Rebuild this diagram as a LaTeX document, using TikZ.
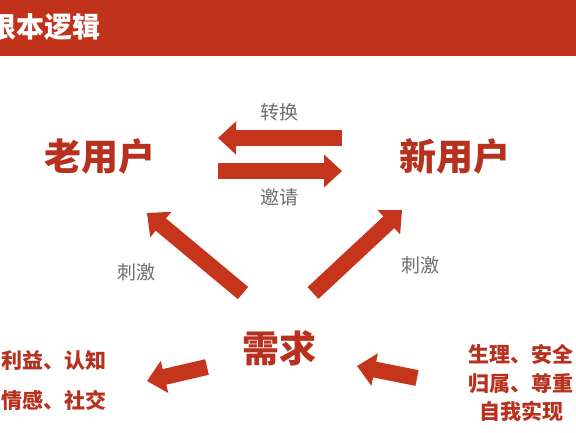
\documentclass[tikz,border=0pt]{standalone}
\usepackage{fontspec}
\usepackage{xcolor}
\usepackage{tikz}
\usetikzlibrary{positioning,arrows.meta}
\newfontfamily\cjk{Noto Sans CJK SC}
\definecolor{cHead}{HTML}{C1321A}
\definecolor{cText}{HTML}{B7311E}
\definecolor{cArr}{HTML}{C5351B}
\definecolor{cLbl}{HTML}{6E6E6E}
\tikzset{
  big/.style={font=\cjk\bfseries\fontsize{37}{40}\selectfont,text=cText,inner sep=0pt},
  side/.style={font=\cjk\bfseries\fontsize{21}{28.5}\selectfont,text=cText,inner sep=0pt},
  lbl/.style={font=\cjk\fontsize{19}{22}\selectfont,text=cLbl,inner sep=0pt},
  fat/.style={draw=cArr,line width=16pt,-{Triangle[length=18pt,width=32pt]}}}
\begin{document}
\begin{tikzpicture}[x=1pt,y=-1pt]
\useasboundingbox (0,0) rectangle (576,432);
\fill[white] (0,0) rectangle (576,432);
% title bar
\fill[cHead] (0,0) rectangle (576,56);
\node[font=\cjk\bfseries\fontsize{28}{30}\selectfont,text=white,anchor=east,inner sep=0pt] (title) at (101,27) {根本逻辑};
% the three parties
\node[big] (old) at (100,156) {老用户};
\node[big] (new) at (455,156) {新用户};
\node[big] (need) at (279,348) {需求};
% arrow ends
\coordinate (convA) at (342,138);
\coordinate (convB) at (218,138);
\coordinate (invA) at (218,171);
\coordinate (invB) at (342,171);
\coordinate (stimLA) at (243,293);
\coordinate (stimLB) at (147,213);
\coordinate (stimRA) at (313,293);
\coordinate (stimRB) at (402,210);
\coordinate (outA) at (207,367);
\coordinate (outB) at (147,381);
\coordinate (inA) at (417,378);
\coordinate (inB) at (357,366);
\draw[fat] (convA) -- (convB);
\draw[fat] (invA) -- (invB);
\draw[fat] (stimLA) -- (stimLB);
\draw[fat] (stimRA) -- (stimRB);
\draw[fat] (outA) -- (outB);
\draw[fat] (inA) -- (inB);
% labels
\node[lbl] (conv) at (279,112) {转换};
\node[lbl] (inv) at (279,197) {邀请};
\node[lbl] (stimL) at (136,272) {刺激};
\node[lbl] (stimR) at (420,265) {刺激};
% kinds of need
\node[side,align=right,anchor=east,font=\cjk\bfseries\fontsize{21}{40}\selectfont] (gain) at (107,381) {利益、认知\\情感、社交};
\node[side,align=center] (maslow) at (521,383) {生理、安全\\归属、尊重\\自我实现};
\end{tikzpicture}
\end{document}
